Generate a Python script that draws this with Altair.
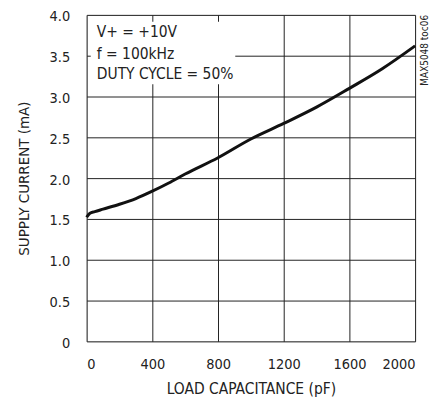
import altair as alt
import pandas as pd

cap_pf = [0, 20, 50, 100, 200, 300, 400, 500, 600, 800, 1000, 1200, 1400, 1600, 1800, 2000]
current_ma = [1.52, 1.57, 1.59, 1.62, 1.68, 1.75, 1.84, 1.94, 2.05, 2.25, 2.48, 2.67, 2.87, 3.10, 3.34, 3.62]
x_ticks = [0, 400, 800, 1200, 1600, 2000]
y_ticks = [0, 0.5, 1.0, 1.5, 2.0, 2.5, 3.0, 3.5, 4.0]
notes = ["V+ = +10V", "f = 100kHz", "DUTY CYCLE = 50%"]
note_y = [3.79, 3.525, 3.28]

FONT = "DejaVu Sans Condensed, Liberation Sans Narrow, sans-serif"

df = pd.DataFrame({"x": cap_pf, "y": current_ma})
notes_df = pd.DataFrame({"t": notes, "y": note_y, "x": [62] * 3})
box_df = pd.DataFrame({"x": [25], "x2": [905], "y": [3.15], "y2": [3.915]})
tag_df = pd.DataFrame({"t": ["MAX5048 toc06"], "x": [2000], "y": [4.0]})

xscale = alt.Scale(domain=[0, 2000], nice=False, zero=False)
yscale = alt.Scale(domain=[0, 4], nice=False)

xaxis = alt.Axis(values=x_ticks, format="d", title="LOAD CAPACITANCE (pF)", grid=True,
                 gridColor="#222", gridWidth=1, gridOpacity=1, ticks=False, domain=False,
                 labelFont=FONT, labelFontSize=14.5, labelColor="#222", labelPadding=16,
                 titleFont=FONT, titleFontSize=15.5, titleFontWeight="normal", titleColor="#222",
                 titlePadding=11)
yaxis = alt.Axis(values=y_ticks, title="SUPPLY CURRENT (mA)", grid=True, gridColor="#222",
                 gridWidth=1, gridOpacity=1, ticks=False, domain=False, labelFont=FONT,
                 labelFontSize=14.5, labelColor="#222", labelPadding=17, labelOffset=2,
                 labelExpr="datum.value == 0 ? '0' : format(datum.value, '.1f')",
                 titleFont=FONT, titleFontSize=15, titleFontWeight="normal", titleColor="#222",
                 titlePadding=18)

line = alt.Chart(df).mark_line(color="#111", strokeWidth=3, interpolate="monotone").encode(
    x=alt.X("x:Q", scale=xscale, axis=xaxis),
    y=alt.Y("y:Q", scale=yscale, axis=yaxis),
)

box = alt.Chart(box_df).mark_rect(color="white").encode(
    x=alt.X("x:Q", scale=xscale), x2="x2", y=alt.Y("y:Q", scale=yscale), y2="y2"
)

txt = alt.Chart(notes_df).mark_text(align="left", baseline="middle", font=FONT, fontSize=15.5,
                                     color="#222").encode(
    x=alt.X("x:Q", scale=xscale), y=alt.Y("y:Q", scale=yscale), text="t:N"
)

tag = alt.Chart(tag_df).mark_text(angle=270, align="right", baseline="middle", font=FONT,
                                   fontSize=10, color="#222", dy=10).encode(
    x=alt.X("x:Q", scale=xscale), y=alt.Y("y:Q", scale=yscale), text="t:N"
)

chart = alt.layer(box, line, txt, tag).properties(
    width=330, height=328,
    autosize=alt.AutoSizeParams(type="none"),
    padding={"left": 79, "top": 6, "right": 20, "bottom": 60},
).configure_view(stroke="#111", strokeWidth=3).configure(background="white")

chart.save("out.html", embed_options={"renderer": "svg", "actions": False})
